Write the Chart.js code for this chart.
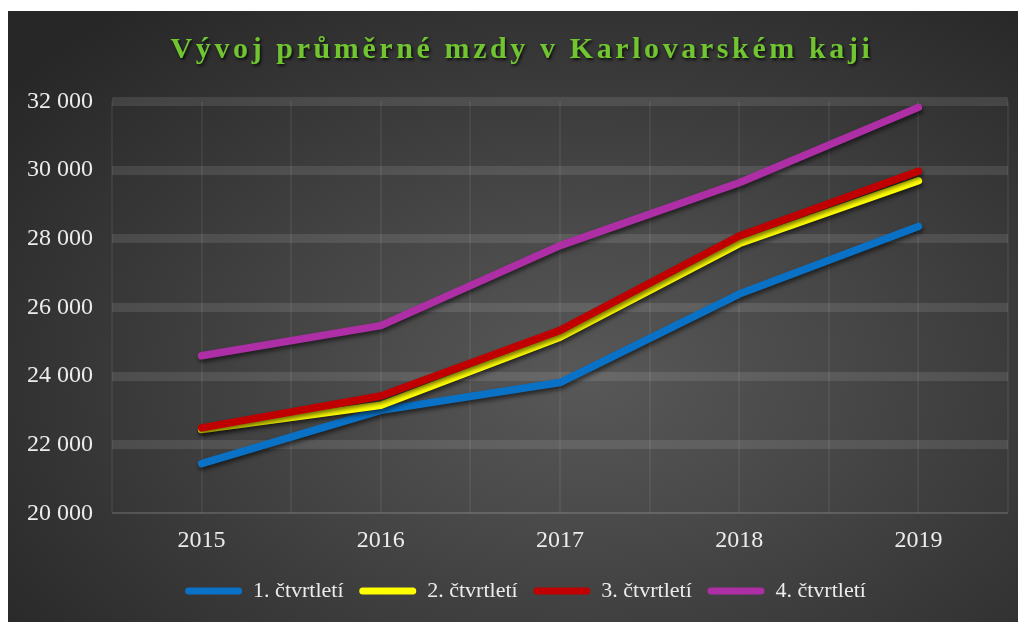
<!DOCTYPE html>
<html>
<head>
<meta charset="utf-8">
<script src="https://cdn.jsdelivr.net/npm/chart.js@4/dist/chart.umd.min.js"></script>
<style>
  html, body { margin: 0; padding: 0; background: #ffffff; }
  #frame {
    position: absolute; left: 8px; top: 11px; width: 1010px; height: 611px;
    background: radial-gradient(ellipse 72% 78% at 57% 60%, #585858 0%, #484848 35%, #363636 70%, #272727 100%);
  }
  #wrap { position: absolute; left: 0; top: 0; width: 1010px; height: 611px; }
</style>
</head>
<body>
<div id="frame"><div id="wrap"><canvas id="c"></canvas></div></div>
<script>
const chartTitle = 'Vývoj průměrné mzdy v Karlovarském kaji';
const categories = [2015, 2016, 2017, 2018, 2019];
const seriesNames = ['1. čtvrtletí', '2. čtvrtletí', '3. čtvrtletí', '4. čtvrtletí'];
const q1 = [21450, 23000, 23810, 26390, 28360];
const q2 = [22440, 23150, 25130, 27860, 29690];
const q3 = [22490, 23420, 25330, 28080, 29970];
const q4 = [24590, 25470, 27800, 29630, 31830];
const yMin = 20000, yMax = 32000, yStep = 2000;
const seriesColors = ['#0a72c6', '#ffff00', '#c00000', '#ad2ea5'];

const seriesValues = [q1, q2, q3, q4];
const FONT = "'Liberation Serif', 'Times New Roman', serif";

function fmt(v) { return String(v).replace(/\B(?=(\d{3})+(?!\d))/g, ' '); }

const fxPlugin = {
  id: 'fx',
  beforeDraw(chart) {
    if (chart.$patched) return;
    chart.$patched = true;
    const tb = chart.titleBlock;
    const tOrig = tb.draw.bind(tb);
    tb.draw = function () {
      const ctx = chart.ctx;
      ctx.save();
      ctx.letterSpacing = '3.6px';
      ctx.shadowColor = 'rgba(0,0,0,0.75)';
      ctx.shadowBlur = 3;
      ctx.shadowOffsetX = 1.5;
      ctx.shadowOffsetY = 2;
      ctx.translate(14, 0);
      tOrig();
      ctx.restore();
    };
    const lg = chart.legend;
    const lOrig = lg.draw.bind(lg);
    lg.draw = function () {
      const ctx = chart.ctx;
      ctx.save();
      ctx.translate(17.5, 0);
      lOrig();
      ctx.restore();
    };
  },
  beforeDatasetDraw(chart) {
    const ctx = chart.ctx;
    ctx.save();
    ctx.shadowColor = 'rgba(0,0,0,0.55)';
    ctx.shadowBlur = 4;
    ctx.shadowOffsetX = 1;
    ctx.shadowOffsetY = 3;
  },
  afterDatasetDraw(chart) {
    chart.ctx.restore();
  }
};

const datasets = seriesNames.map((name, i) => ({
  label: name,
  data: categories.map((c, j) => ({ x: c, y: seriesValues[i][j] })),
  borderColor: seriesColors[i],
  backgroundColor: seriesColors[i],
  borderWidth: 7.5,
  borderCapStyle: 'round',
  borderJoinStyle: 'round',
  pointRadius: 0,
  tension: 0,
  order: seriesNames.length - i
}));

new Chart(document.getElementById('c'), {
  type: 'line',
  data: { datasets },
  plugins: [fxPlugin],
  options: {
    responsive: true,
    maintainAspectRatio: false,
    animation: false,
    devicePixelRatio: 1,
    layout: { padding: { left: 0, right: 10, top: 0, bottom: 10 } },
    plugins: {
      tooltip: { enabled: false },
      title: {
        display: true,
        text: chartTitle,
        color: '#70c530',
        font: { family: FONT, size: 30, weight: 'bold' },
        padding: { top: 21, bottom: 33.5 }
      },
      legend: {
        position: 'bottom',
        labels: {
          color: '#ececec',
          font: { family: FONT, size: 22 },
          boxWidth: 57,
          boxHeight: 7,
          padding: 15.7,
          useBorderRadius: true,
          borderRadius: 3.5,
          generateLabels(chart) {
            const items = Chart.defaults.plugins.legend.labels.generateLabels(chart);
            items.forEach(it => { it.lineWidth = 0; it.fillStyle = it.strokeStyle; it.borderRadius = 3.5; });
            items.sort((a, b) => a.datasetIndex - b.datasetIndex);
            return items;
          }
        }
      }
    },
    scales: {
      x: {
        type: 'linear',
        min: categories[0] - 0.5,
        max: categories[categories.length - 1] + 0.5,
        afterFit(s) { s.height = 51; s.paddingLeft = 0; s.paddingRight = 0; },
        afterBuildTicks(s) {
          const t = [];
          for (let v = s.min; v <= s.max + 1e-9; v += 0.5) t.push({ value: v });
          s.ticks = t;
        },
        ticks: {
          color: '#ececec',
          font: { family: FONT, size: 24 },
          padding: 13,
          maxRotation: 0,
          autoSkip: false,
          callback: (v) => (Number.isInteger(v) && categories.includes(v)) ? String(v) : ''
        },
        grid: { color: 'rgba(255,255,255,0.06)', lineWidth: 2, drawTicks: false },
        border: { display: false }
      },
      y: {
        min: yMin,
        max: yMax,
        afterFit(s) { s.width = 104; s.paddingTop = 0; s.paddingBottom = 0; },
        ticks: {
          stepSize: yStep,
          color: '#ececec',
          font: { family: FONT, size: 24 },
          padding: 19,
          callback: (v) => fmt(v)
        },
        grid: {
          color: (c) => c.tick && c.tick.value === yMin ? 'rgba(255,255,255,0.15)' : 'rgba(255,255,255,0.1)',
          lineWidth: (c) => c.tick && c.tick.value === yMin ? 2 : 9,
          drawTicks: false
        },
        border: { display: false }
      }
    }
  }
});
</script>
</body>
</html>
